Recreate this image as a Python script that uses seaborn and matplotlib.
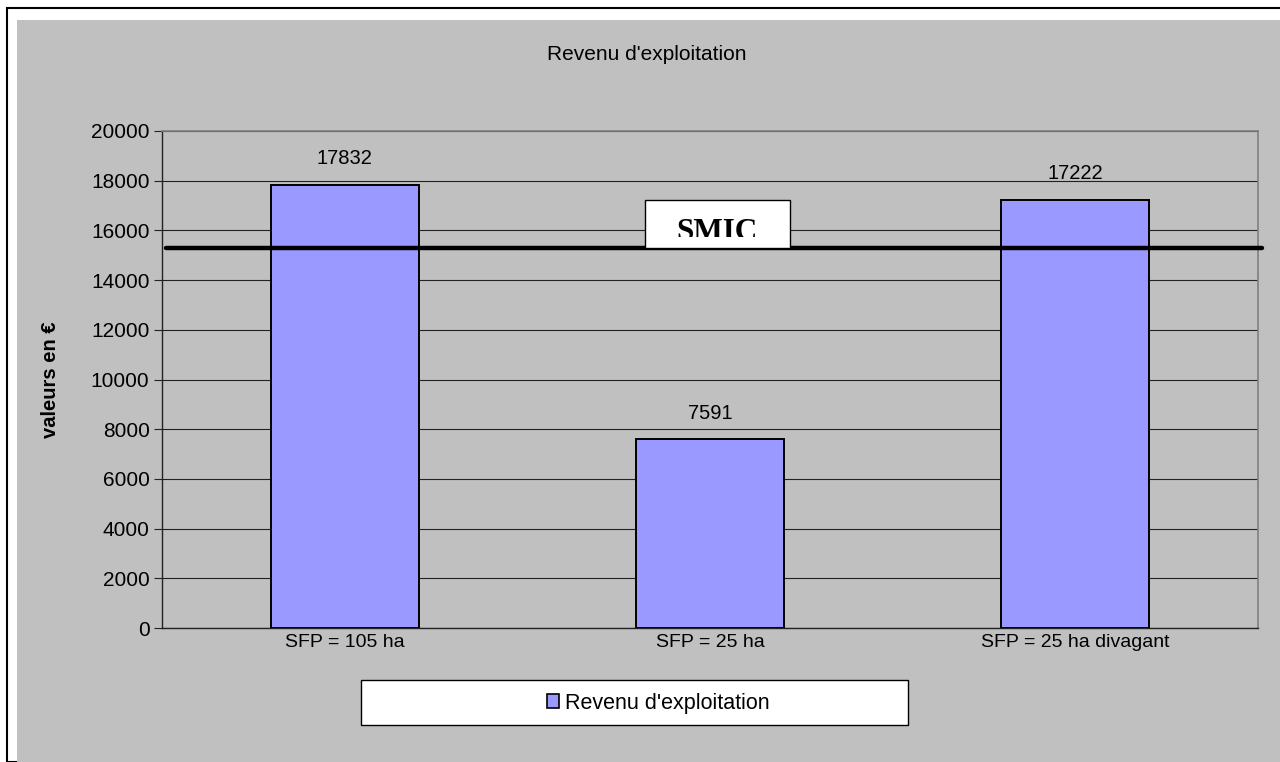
import matplotlib
matplotlib.use("Agg")
import matplotlib.pyplot as plt
import matplotlib.patches as mpatches
import matplotlib.transforms as mtransforms
import seaborn as sns
import pandas as pd

# data
categories = ["SFP = 105 ha", "SFP = 25 ha", "SFP = 25 ha divagant"]
revenu = [17832, 7591, 17222]
smic = 15300
y_ticks = [0, 2000, 4000, 6000, 8000, 10000, 12000, 14000, 16000, 18000, 20000]

df = pd.DataFrame({"categorie": categories, "revenu": revenu})

sns.set_theme(style="white")
plt.rcParams["font.family"] = ["Liberation Sans", "DejaVu Sans"]
plt.rcParams.update({"text.color": "black", "axes.labelcolor": "black",
                     "xtick.color": "black", "ytick.color": "black"})

W, H = 1280, 762
fig = plt.figure(figsize=(W / 100, H / 100), dpi=100)
fig.patch.set_facecolor("white")

def px(x, y):
    # pixel (from top-left) -> figure fraction
    return x / W, 1 - y / H

# chart frame + grey chart area
fig.patches.append(mpatches.Rectangle(px(7, 762), 1, (762 - 8) / H, transform=fig.transFigure,
                                      facecolor="white", edgecolor="black", linewidth=1.5, zorder=-2))
fig.patches.append(mpatches.Rectangle(px(17, 762), 1, (762 - 20) / H, transform=fig.transFigure,
                                      facecolor="#C0C0C0", edgecolor="none", zorder=-1))

left, top = px(162, 131)
right, bottom = px(1258, 628)
ax = fig.add_axes([left, bottom, right - left, top - bottom])
ax.set_facecolor("#C0C0C0")

sns.barplot(data=df, x="categorie", y="revenu", color="#9999FF", saturation=1,
            width=0.405, edgecolor="black", linewidth=1.4, ax=ax, zorder=3,
            label="Revenu d'exploitation")
if ax.get_legend() is not None:
    ax.get_legend().remove()

for i, v in enumerate(revenu):
    ax.annotate(str(v), (i, v), xytext=(0, 12), textcoords="offset points",
                ha="center", va="bottom", fontsize=14.5, color="black")

ax.set_xlim(-0.5, 2.5)
ax.set_ylim(0, 20000)
ax.set_yticks(y_ticks)
ax.set_yticklabels([str(t) for t in y_ticks], fontsize=15)
ax.yaxis.grid(True, color="#222222", linewidth=0.8, zorder=1)
ax.set_axisbelow(True)

ax.set_xticks(range(len(categories)))
ax.set_xticklabels(categories, fontsize=14)
ax.set_xticks([0.5, 1.5], minor=True)
ax.tick_params(axis="x", which="major", length=0, pad=4)
ax.tick_params(axis="x", which="minor", length=5, width=0.8, color="#222222", direction="out")
ax.tick_params(axis="y", length=6, width=0.8, color="#222222", direction="out", pad=3, left=True)
ax.set_xlabel("")
ax.set_ylabel("valeurs en €", fontsize=14.5, fontweight="bold", labelpad=22)

for s in ["left", "bottom"]:
    ax.spines[s].set_color("#222222")
    ax.spines[s].set_linewidth(1)
for s in ["right", "top"]:
    ax.spines[s].set_color("#808080")
    ax.spines[s].set_linewidth(1.2)
    ax.spines[s].set_visible(True)

# SMIC line, slightly overrunning the plot area on the right
trans = mtransforms.blended_transform_factory(ax.transAxes, ax.transData)
ax.plot([0.004, 1.004], [smic, smic], transform=trans, color="black",
        linewidth=3.2, clip_on=False, zorder=5)

# SMIC text box
bx0, by0 = px(645, 248)
bw, bh = (790 - 645) / W, (248 - 200) / H
fig.patches.append(mpatches.Rectangle((bx0, by0), bw, bh, transform=fig.transFigure,
                                      facecolor="white", edgecolor="black", linewidth=1, zorder=4))
clip = mpatches.Rectangle((bx0, px(0, 237)[1]), bw, bh, transform=fig.transFigure)
txt = fig.text(717 / W, px(0, 240)[1], "SMIC", ha="center", va="baseline",
               fontsize=22.5, fontweight="bold", family="Liberation Serif", zorder=6)
txt.set_clip_path(clip)

# title
fig.text(647 / W, px(0, 55)[1], "Revenu d'exploitation", ha="center", va="center", fontsize=15)

# legend box
fig.patches.append(mpatches.Rectangle(px(361, 725), (908 - 361) / W, (725 - 680) / H,
                                      transform=fig.transFigure, facecolor="white",
                                      edgecolor="black", linewidth=1, zorder=4))
handles = [mpatches.Patch(facecolor="#9999FF", edgecolor="black", linewidth=1.2)]
leg = fig.legend(handles, ["Revenu d'exploitation"], loc="center", bbox_to_anchor=px(658, 703),
                 frameon=False, fontsize=15.5, handlelength=0.6, handleheight=0.6,
                 handletextpad=0.25)
leg.set_zorder(6)

fig.savefig("out.png", dpi=100)
